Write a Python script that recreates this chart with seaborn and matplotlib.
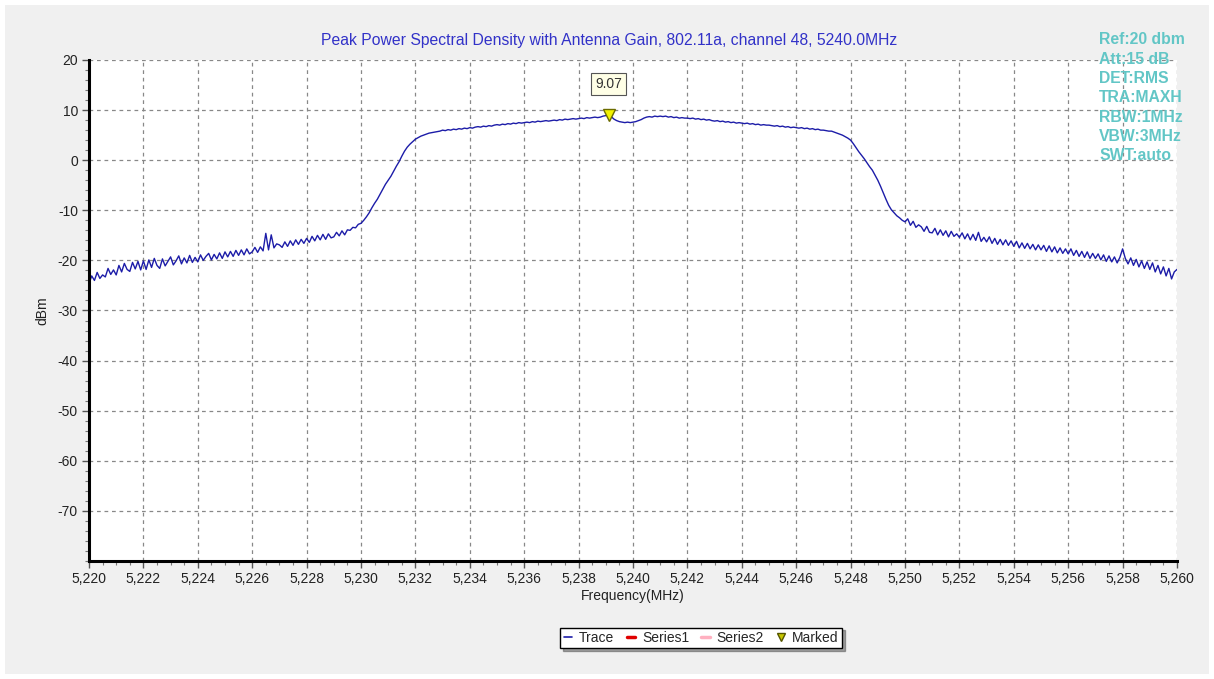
import numpy as np
import seaborn as sns
import matplotlib.pyplot as plt
from matplotlib.lines import Line2D
from matplotlib.patches import Rectangle
from matplotlib.ticker import FuncFormatter, MultipleLocator

# spectrum analyser trace, 0.1 MHz steps from 5220 to 5260 MHz (dBm)
trace_dbm = [
    -24.6, -23.1, -24.0, -22.4, -23.6, -22.9, -23.3, -21.6, -22.8, -21.9,
    -22.9, -21.0, -22.3, -20.6, -21.8, -22.2, -20.4, -21.7, -20.2, -21.9,
    -20.1, -21.8, -19.9, -21.4, -19.6, -21.0, -21.6, -19.7, -21.1, -20.2,
    -19.3, -20.9, -20.1, -19.1, -20.7, -19.5, -20.5, -19.0, -20.4, -19.4,
    -20.3, -18.9, -20.0, -19.2, -18.6, -19.9, -18.8, -19.7, -18.5, -19.6,
    -18.3, -19.3, -18.2, -19.2, -18.0, -19.0, -17.9, -18.9, -17.7, -18.7,
    -18.3, -17.4, -18.4, -17.3, -18.1, -14.6, -17.9, -14.9, -17.5, -16.7,
    -16.9, -17.4, -16.3, -17.2, -16.1, -17.0, -15.9, -16.8, -15.8, -16.6,
    -15.6, -16.4, -15.2, -16.1, -15.0, -15.9, -14.8, -15.8, -14.7, -15.5,
    -15.3, -14.4, -15.1, -14.1, -14.9, -13.9, -14.0, -13.4, -13.5, -12.8,
    -12.6, -12.0, -11.3, -10.5, -9.5, -8.6, -7.8, -6.8, -5.8, -4.8,
    -4.0, -3.2, -2.2, -1.2, -0.3, 0.8, 1.8, 2.6, 3.2, 3.7,
    4.2, 4.5, 4.8, 5.0, 5.2, 5.4, 5.5, 5.6, 5.7, 5.8,
    6.0, 5.9, 6.1, 6.0, 6.2, 6.1, 6.3, 6.2, 6.4, 6.3,
    6.5, 6.4, 6.6, 6.7, 6.6, 6.8, 6.7, 6.9, 6.8, 7.0,
    7.1, 7.0, 7.2, 7.1, 7.3, 7.2, 7.4, 7.3, 7.5, 7.4,
    7.5, 7.6, 7.5, 7.7, 7.6, 7.8, 7.7, 7.8, 7.9, 7.8,
    7.9, 8.0, 7.9, 8.1, 8.0, 8.2, 8.1, 8.2, 8.3, 8.2,
    8.3, 8.4, 8.3, 8.5, 8.4, 8.5, 8.6, 8.5, 8.6, 8.8,
    8.9, 9.07, 8.7, 8.2, 7.9, 7.7, 7.6, 7.5, 7.6, 7.5,
    7.6, 7.7, 7.9, 8.1, 8.4, 8.6, 8.7, 8.6, 8.8, 8.7,
    8.8, 8.7, 8.8, 8.6, 8.7, 8.5, 8.6, 8.4, 8.5, 8.4,
    8.4, 8.3, 8.4, 8.2, 8.3, 8.1, 8.2, 8.0, 8.1, 7.9,
    7.8, 7.9, 7.7, 7.8, 7.6, 7.7, 7.5, 7.6, 7.4, 7.5,
    7.4, 7.3, 7.4, 7.2, 7.3, 7.1, 7.2, 7.0, 7.1, 7.0,
    7.0, 6.9, 6.8, 6.9, 6.7, 6.8, 6.6, 6.7, 6.5, 6.6,
    6.5, 6.4, 6.5, 6.3, 6.4, 6.2, 6.3, 6.1, 6.2, 6.0,
    6.0, 5.9, 5.8, 5.8, 5.6, 5.4, 5.2, 5.0, 4.7, 4.4,
    4.0, 3.3, 2.5, 1.7, 1.0, 0.3, -0.5, -1.3, -2.0, -3.0,
    -4.0, -5.2, -6.5, -7.8, -9.0, -9.9, -10.5, -11.1, -11.5, -12.0,
    -12.3, -11.7, -13.0, -12.2, -13.4, -12.9, -13.3, -14.2, -13.2, -14.4,
    -14.5, -13.6, -14.9, -13.9, -15.0, -14.1, -15.3, -14.2, -15.2, -14.7,
    -15.4, -14.5, -15.7, -14.7, -15.9, -14.8, -16.0, -14.4, -16.2, -15.4,
    -16.3, -15.3, -16.6, -15.6, -16.8, -15.8, -16.9, -15.9, -17.0, -16.1,
    -17.2, -16.2, -17.5, -16.5, -17.6, -16.6, -17.7, -16.8, -17.9, -16.9,
    -17.9, -17.0, -18.2, -17.1, -18.3, -17.3, -18.5, -17.5, -18.6, -17.7,
    -18.7, -17.7, -19.0, -18.0, -19.2, -18.2, -19.4, -18.3, -19.6, -18.6,
    -19.6, -18.7, -19.9, -18.9, -20.2, -19.1, -20.3, -19.3, -20.5, -19.4,
    -17.7, -19.6, -20.7, -19.5, -21.0, -19.8, -21.3, -20.1, -21.6, -20.3,
    -21.8, -20.5, -22.3, -21.0, -22.7, -21.3, -23.1, -21.6, -23.7, -22.3,
    -21.8,
]
freq_start, freq_stop = 5220, 5260
freq_mhz = np.linspace(freq_start, freq_stop, len(trace_dbm))

marker_freq = 5239.1
marker_val = 9.07

title = "Peak Power Spectral Density with Antenna Gain, 802.11a, channel 48, 5240.0MHz"
settings = ["Ref:20 dbm", "Att:15 dB", "DET:RMS", "TRA:MAXH",
            "RBW:1MHz", "VBW:3MHz", "SWT:auto"]
legend_labels = ["Trace", "Series1", "Series2", "Marked"]

sns.set_style("white")
plt.rcParams["font.family"] = ["Liberation Sans", "DejaVu Sans"]
plt.rcParams["axes.unicode_minus"] = False

fig = plt.figure(figsize=(12.14, 6.79), dpi=100, facecolor="white")
fig.patches.append(Rectangle((5 / 1214, 5 / 679), 1204 / 1214, 669 / 679,
                             transform=fig.transFigure, facecolor="#f0f0f0",
                             edgecolor="none", zorder=-10))
ax = fig.add_axes([89 / 1214, 1 - 561 / 679, 1088 / 1214, 501 / 679])
ax.set_facecolor("white")

sns.lineplot(x=freq_mhz, y=trace_dbm, ax=ax, color="#1c1ca8", linewidth=1.0)
ax.plot([marker_freq], [marker_val], marker="v", markersize=8,
        color="#f2f200", markeredgecolor="#6b6b00", linestyle="none", zorder=5)
ax.annotate(f"{marker_val:.2f}", xy=(marker_freq, marker_val), xytext=(0, 22),
            textcoords="offset points", ha="center", va="center", fontsize=10,
            color="#333333",
            bbox=dict(boxstyle="square,pad=0.3", facecolor="#ffffe6",
                      edgecolor="#555555", linewidth=0.8))

ax.set_xlim(freq_start, freq_stop)
ax.set_ylim(-80, 20)
ax.xaxis.set_major_locator(MultipleLocator(2))
ax.xaxis.set_minor_locator(MultipleLocator(0.5))
ax.yaxis.set_minor_locator(MultipleLocator(2))
ax.set_yticks(np.arange(-70, 21, 10))
ax.xaxis.set_major_formatter(FuncFormatter(lambda v, p: f"{v:,.0f}"))
ax.tick_params(axis="both", which="major", direction="out", length=5, width=1,
               color="#555555", labelsize=10, labelcolor="#222222", pad=3)
ax.tick_params(axis="both", which="minor", direction="out", length=3, width=0.8,
               color="#777777")
ax.tick_params(axis="x", which="both", bottom=True)
ax.tick_params(axis="y", which="both", left=True)
ax.grid(True, which="major", color="#888888", linestyle=(0, (3, 3)), linewidth=0.9)

for side in ["top", "right"]:
    ax.spines[side].set_visible(False)
for side in ["left", "bottom"]:
    ax.spines[side].set_color("black")
    ax.spines[side].set_linewidth(2.2)

ax.set_xlabel("Frequency(MHz)", fontsize=10, color="#222222", labelpad=2)
ax.set_ylabel("dBm", fontsize=10, color="#222222", labelpad=6)
fig.text(609 / 1214, 1 - 41 / 679, title, ha="center", va="center",
         fontsize=11.3, color="#3232c8")

for i, s in enumerate(settings):
    fig.text(1099 / 1214, 1 - (40 + i * 19.3) / 679, s, ha="left", va="center",
             fontsize=11.3, fontweight="bold", color="#62c6c6")

handles = [
    Line2D([], [], color="#1c1ca8", linewidth=1.2),
    Line2D([], [], color="#e00000", linewidth=2.5),
    Line2D([], [], color="#ffb0c0", linewidth=2.5),
    Line2D([], [], marker="v", color="#c8c800", markeredgecolor="#555500",
           markersize=6, linestyle="none"),
]
leg = fig.legend(handles, legend_labels, loc="center",
                 bbox_to_anchor=(701 / 1214, 1 - 638 / 679), ncol=4,
                 fontsize=10, frameon=True, fancybox=False, shadow=True,
                 edgecolor="black", handlelength=0.6, handletextpad=0.5,
                 columnspacing=0.9, borderpad=0.25)
leg.get_frame().set_linewidth(1.0)

fig.savefig("out.png", dpi=100, facecolor=fig.get_facecolor())
